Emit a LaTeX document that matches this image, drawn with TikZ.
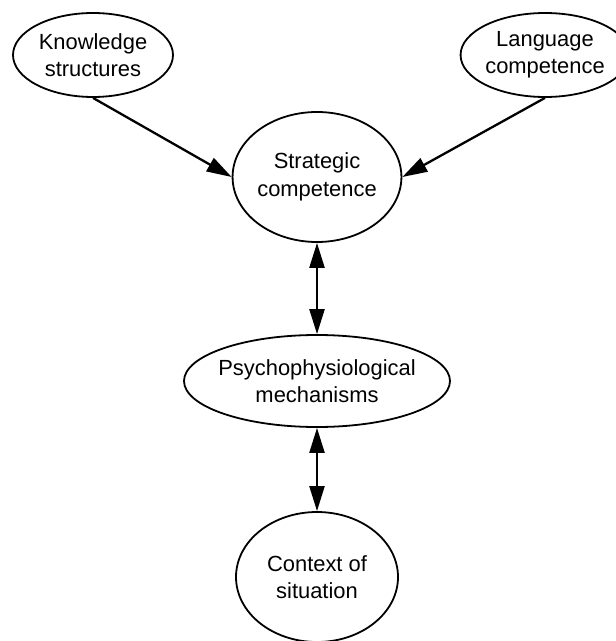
\documentclass[tikz,border=0pt]{standalone}
\usepackage{fontspec}
\setmainfont{Liberation Sans}
\usetikzlibrary{shapes.geometric,arrows.meta}
\tikzset{
  bubble/.style={draw, ellipse, line width=1.8bp, inner sep=0pt, align=center,
    font=\fontsize{22}{27.5}\selectfont},
  conn/.style={line width=2.3bp, -{Triangle[length=25bp,width=15bp]}},
  dconn/.style={line width=2.3bp, {Triangle[length=25bp,width=15bp]}-{Triangle[length=25bp,width=15bp]}}
}
\begin{document}
\begin{tikzpicture}[x=1bp,y=-1bp]
\useasboundingbox (0,0) rectangle (616,641);
\node[bubble, minimum width=160bp, minimum height=84bp] (ks) at (93,55) {Knowledge\\structures};
\node[bubble, minimum width=144bp, minimum height=84bp] (lc) at (545,55) {Language\\competence};
\node[bubble, minimum width=162bp, minimum height=130bp] (sc) at (317,177) {Strategic\\competence};
\node[bubble, inner xsep=-12bp, minimum width=266bp, minimum height=92bp] (pm) at (317,381) {Psychophysiological\\mechanisms};
\node[bubble, minimum width=162bp, minimum height=130bp] (cs) at (317,577) {Context of\\situation};
\draw[conn] (ks.south) -- (sc.west);
\draw[conn] (lc.south) -- (sc.east);
\draw[dconn] (sc.south) -- (pm.north);
\draw[dconn] (pm.south) -- (cs.north);
\end{tikzpicture}
\end{document}
